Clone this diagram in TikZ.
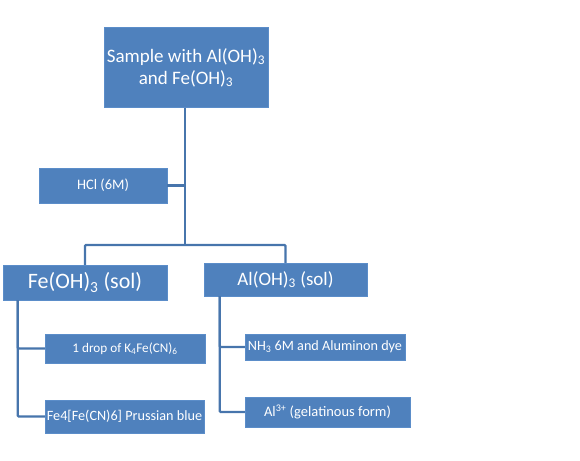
\documentclass[tikz,border=0pt]{standalone}
\usepackage{fontspec}
\setmainfont{Carlito}
\usepackage{tikz}
\usetikzlibrary{positioning}
\definecolor{boxblue}{HTML}{4F81BD}
\definecolor{boxedge}{HTML}{5B8DC9}
\definecolor{lineblue}{HTML}{4775AC}

\begin{document}
\begin{tikzpicture}[x=1pt, y=-1pt,
    stepbox/.style={draw=boxedge, fill=boxblue, text=white, inner sep=1pt, align=center},
    link/.style={draw=lineblue, line width=2.2pt, rounded corners=1pt}]
  \useasboundingbox (0,0) rectangle (580,460);

  % Sample
  \node (sample) at (186,67.5) [stepbox, minimum width=164pt, minimum height=80pt, font=\fontsize{19}{22}\selectfont] {Sample with Al(OH)\textsubscript{3}\\and Fe(OH)\textsubscript{3}};

  % Acid
  \node (hcl) at (103,185.5) [stepbox, minimum width=128pt, minimum height=35pt, font=\fontsize{14.5}{16}\selectfont] {HCl (6M)};

  % Solids
  \node (feoh) at (85,282.5) [stepbox, minimum width=164pt, minimum height=35pt, font=\fontsize{22}{24}\selectfont] {Fe(OH)\textsubscript{3} (sol)};
  \node (aloh) at (285.5,279.5) [stepbox, minimum width=163pt, minimum height=33pt, font=\fontsize{19}{22}\selectfont] {Al(OH)\textsubscript{3} (sol)};

  % Iron branch
  \node (drop) at (125,348.5) [stepbox, minimum width=160pt, minimum height=29pt, font=\fontsize{13.2}{15}\selectfont] {1 drop of K\textsubscript{4}Fe(CN)\textsubscript{6}};
  \node (prussian) at (124.5,416.5) [stepbox, minimum width=159pt, minimum height=33pt, font=\fontsize{14.2}{16}\selectfont] {Fe4[Fe(CN)6] Prussian blue};

  % Aluminium branch
  \node (nh3) at (325,347) [stepbox, minimum width=160pt, minimum height=26pt, font=\fontsize{14.2}{16}\selectfont] {NH\textsubscript{3} 6M and Aluminon dye};
  \node (al3) at (327.5,412) [stepbox, minimum width=165pt, minimum height=30pt, font=\fontsize{14.5}{16}\selectfont] {Al\textsuperscript{3+} (gelatinous form)};

  \coordinate (split) at (185,245);

  % Sample-to-split line
  \draw[link] (sample.south -| split) -- (split);

  % HCl line
  \draw[link] (hcl.east) -- (hcl.east -| split);

  % split-to-solids lines
  \draw[link] (feoh.north) |- (split) -| (aloh.north);

  % Fe lines
  \draw[link] ([xshift=15pt]feoh.south west) |- (drop.west);
  \draw[link] ([xshift=15pt]feoh.south west) |- (prussian.west);

  % Al lines
  \draw[link] ([xshift=16pt]aloh.south west) |- (nh3.west);
  \draw[link] ([xshift=16pt]aloh.south west) |- (al3.west);
\end{tikzpicture}
\end{document}
